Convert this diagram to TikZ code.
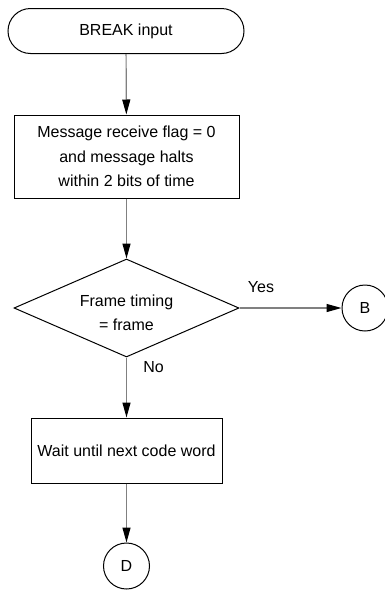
\documentclass[tikz,border=0pt]{standalone}
\usepackage{fontspec}
\setmainfont{Liberation Sans}
\usepackage{tikz}
\usetikzlibrary{positioning,arrows.meta,shapes,calc}

\begin{document}
\begin{tikzpicture}[x=1pt,y=-1pt,
    font=\fontsize{16}{24.5}\selectfont,
    terminal/.style={draw,line width=1pt,rectangle,rounded corners=22.5pt,minimum width=236pt,minimum height=45pt,inner sep=0pt},
    process/.style={draw,line width=1pt,rectangle,align=center,inner sep=0pt},
    decision/.style={draw,line width=1pt,diamond,aspect=2.3,minimum width=225pt,minimum height=98pt,inner sep=0pt},
    joint/.style={draw,line width=1pt,circle,minimum size=46pt,inner sep=0pt},
    flow/.style={draw=gray,line width=1.2pt,-{Triangle[length=15pt,width=8pt,color=black]}}]
    \useasboundingbox (0,0) rectangle (385,592);

    % Start of the flow
    \node[terminal] (break) at (126,31) {BREAK input};

    \node[process,minimum width=225pt,minimum height=83pt] (flag) at (126.5,156.5)
        {Message receive flag = 0\\and message halts\\within 2 bits of time};

    % Frame timing check
    \node[decision] (timing) at (126.5,308) {};
    \node[align=center] (timingtext) at (126.5,313) {Frame timing\\= frame};

    \node[joint] (b) at (365,308) {B};
    \node at (261,287) {Yes};
    \node at (153.5,367.5) {No};

    \node[process,minimum width=191pt,minimum height=65pt] (wait) at (126.5,450.5) {Wait until next code word};

    \node[joint] (d) at (126.5,566) {D};

    % Connectors
    \draw[flow] (break) -- (flag);
    \draw[flow] (flag) -- (timing);
    \draw[flow] (timing.east) -- (b);
    \draw[flow] (timing.south) -- (wait);
    \draw[flow] (wait) -- (d);
\end{tikzpicture}
\end{document}
